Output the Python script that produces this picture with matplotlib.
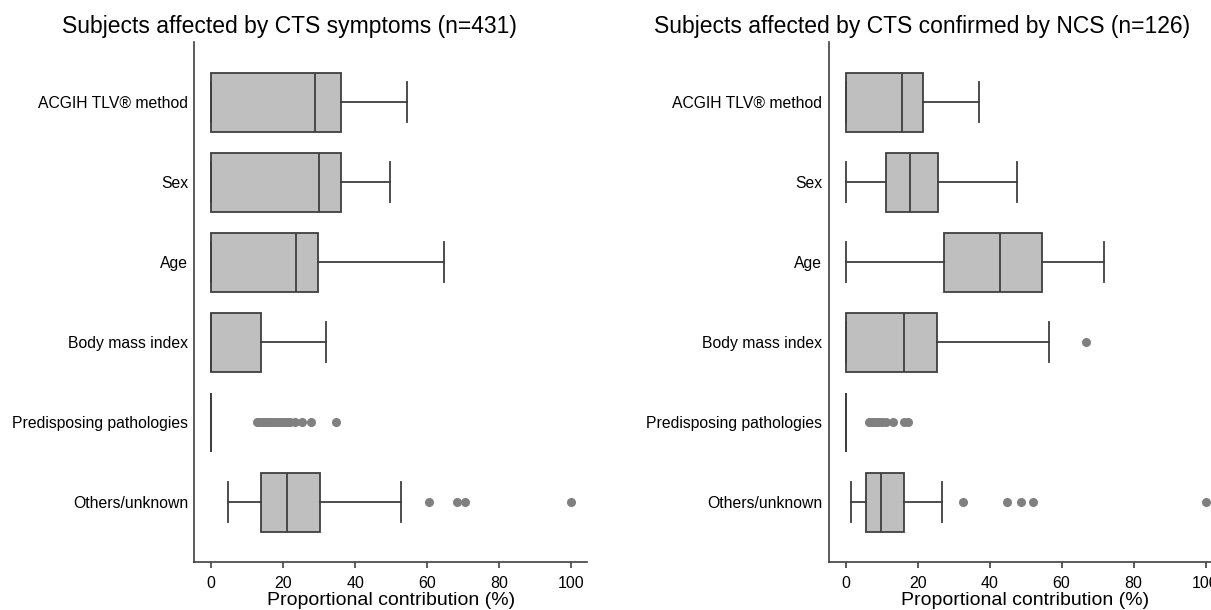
import matplotlib
matplotlib.use("Agg")
import matplotlib.pyplot as plt

plt.rcParams['font.family'] = ['Liberation Sans', 'DejaVu Sans']

categories = ["ACGIH TLV® method", "Sex", "Age", "Body mass index",
              "Predisposing pathologies", "Others/unknown"]

# Panel 1: subjects with CTS symptoms (n=431)
p1_whislo = [0, 0, 0, 0, 0, 4.7]
p1_q1     = [0, 0, 0, 0, 0, 13.9]
p1_med    = [28.8, 30.0, 23.5, 0, 0, 21.0]
p1_q3     = [36.1, 36.1, 29.6, 13.9, 0, 30.3]
p1_whishi = [54.3, 49.6, 64.7, 31.8, 0, 52.8]
p1_fliers = [[], [], [], [],
             [12.6, 13.3, 14.0, 14.8, 15.5, 16.3, 17.0, 17.8, 18.6, 19.4,
              20.2, 21.0, 22.0, 23.2, 25.3, 27.7, 34.6],
             [60.5, 68.2, 70.4, 100.0]]

# Panel 2: subjects with CTS confirmed by NCS (n=126)
p2_whislo = [0, 0, 0, 0, 0, 1.4]
p2_q1     = [0, 11.2, 27.4, 0, 0, 5.7]
p2_med    = [15.6, 17.8, 42.9, 16.2, 0, 9.7]
p2_q3     = [21.4, 25.7, 54.6, 25.3, 0, 16.1]
p2_whishi = [37.1, 47.5, 71.9, 56.5, 0, 26.9]
p2_fliers = [[], [], [], [66.7],
             [6.6, 7.3, 8.0, 8.7, 9.4, 10.2, 11.2, 13.2, 16.3, 17.3],
             [32.6, 44.9, 48.6, 52.0, 100.0]]

titles = ["Subjects affected by CTS symptoms (n=431)",
          "Subjects affected by CTS confirmed by NCS (n=126)"]
xlabel = "Proportional contribution (%)"
xticks = [0, 20, 40, 60, 80, 100]

W, H = 1211, 610
fig = plt.figure(figsize=(W / 100, H / 100), dpi=100)

edge = "#3f3f3f"
fill = "#bfbfbf"
flier_c = "#808080"

axes_left_px = [194.3, 828.7]
axes_width_px = 392.7
title_x_px = [289, 922]

panels = [
    (p1_whislo, p1_q1, p1_med, p1_q3, p1_whishi, p1_fliers),
    (p2_whislo, p2_q1, p2_med, p2_q3, p2_whishi, p2_fliers),
]

for i, (wl, q1, med, q3, wh, fl) in enumerate(panels):
    ax = fig.add_axes([axes_left_px[i] / W, (H - 562.3) / H,
                       axes_width_px / W, 520 / H])
    stats = []
    for j in range(len(categories)):
        stats.append(dict(whislo=wl[j], q1=q1[j], med=med[j], q3=q3[j],
                          whishi=wh[j], fliers=fl[j], label=categories[j]))
    ax.bxp(stats, positions=range(len(categories)), vert=False,
           widths=0.74, capwidths=0.5, patch_artist=True, showfliers=True,
           boxprops=dict(facecolor=fill, edgecolor=edge, linewidth=1.3),
           medianprops=dict(color=edge, linewidth=1.3),
           whiskerprops=dict(color=edge, linewidth=1.3),
           capprops=dict(color=edge, linewidth=1.3),
           flierprops=dict(marker='o', markerfacecolor=flier_c,
                           markeredgecolor=flier_c, markersize=5.5))
    ax.set_ylim(5.75, -0.75)
    ax.set_xlim(-4.7, 104.4)
    ax.set_yticks(range(len(categories)))
    ax.set_yticklabels(categories, fontsize=11.3)
    ax.set_xticks(xticks)
    ax.set_xticklabels([str(t) for t in xticks], fontsize=11.5)
    ax.tick_params(axis='y', length=0, pad=4.5)
    ax.tick_params(axis='x', length=4, width=1.2, color=edge, pad=6)
    for s in ['top', 'right']:
        ax.spines[s].set_visible(False)
    for s in ['left', 'bottom']:
        ax.spines[s].set_color(edge)
        ax.spines[s].set_linewidth(1.2)
    ax.set_xlabel(xlabel, fontsize=14, labelpad=0.5)
    fig.text(title_x_px[i] / W, 1 - 27 / H, titles[i], fontsize=16.5,
             ha='center', va='center')

fig.savefig("out.png", dpi=100)
